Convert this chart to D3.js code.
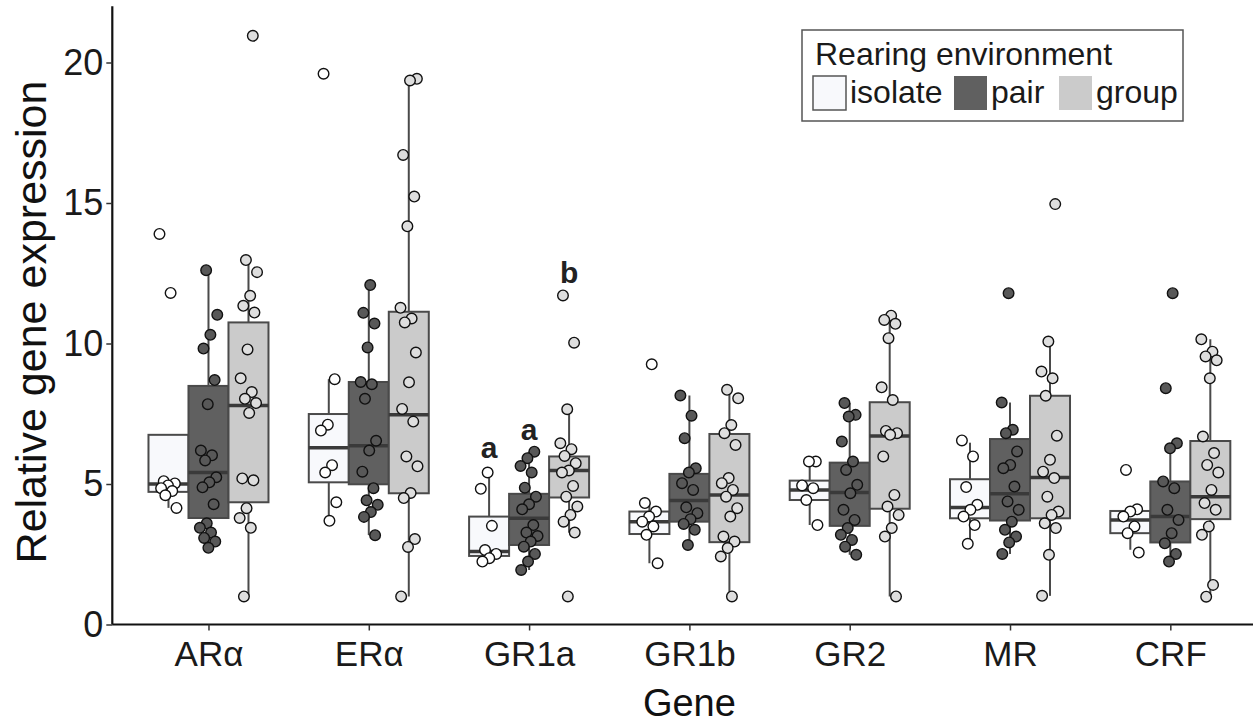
<!DOCTYPE html>
<html>
<head>
<meta charset="utf-8">
<script src="https://cdnjs.cloudflare.com/ajax/libs/d3/7.8.5/d3.min.js"></script>
<style>
	body { margin: 0; background: #fff; }
	svg { display: block; font-family: "Liberation Sans", Arial, sans-serif; }
</style>
</head>
<body>
<svg id="chart" width="1253" height="723"></svg>
<script>
var genes = ['ARα', 'ERα', 'GR1a', 'GR1b', 'GR2', 'MR', 'CRF'];
var envs = ['isolate', 'pair', 'group'];
var yTicks = [0, 5, 10, 15, 20];

// box stats per gene: [whisker low, q1, median, q3, whisker high]
var isolateBox = [
	[4.15, 4.72, 5.0, 6.75, 5.1],
	[3.69, 5.06, 6.29, 7.49, 8.73],
	[2.24, 2.44, 2.6, 3.84, 5.41],
	[2.18, 3.22, 3.66, 4.02, 4.32],
	[3.54, 4.43, 4.79, 5.12, 5.8],
	[2.92, 3.78, 4.16, 5.17, 6.47],
	[2.66, 3.25, 3.72, 4.04, 4.1]
];
var pairBox = [
	[2.73, 3.79, 5.41, 8.49, 12.61],
	[3.18, 4.99, 6.36, 8.63, 12.08],
	[1.94, 2.83, 3.78, 4.65, 6.15],
	[2.83, 3.66, 4.41, 5.36, 8.15],
	[2.48, 3.51, 4.7, 5.76, 7.88],
	[2.51, 3.7, 4.65, 6.6, 7.9],
	[2.24, 2.92, 3.84, 5.09, 6.45]
];
var groupBox = [
	[1.0, 4.35, 7.79, 10.75, 12.92],
	[1.0, 4.67, 7.46, 11.13, 19.39],
	[3.27, 4.52, 5.48, 5.98, 7.66],
	[1.0, 2.93, 4.61, 6.78, 8.35],
	[1.0, 4.12, 6.71, 7.91, 10.99],
	[1.02, 3.78, 5.23, 8.14, 10.07],
	[1.0, 3.75, 4.55, 6.53, 10.15]
];

// individual samples per gene
var isolatePts = [
	[13.9, 11.8, 5.1, 5.02, 4.95, 4.85, 4.75, 4.6, 4.15],
	[19.6, 8.73, 7.11, 6.9, 5.67, 5.41, 4.35, 3.69],
	[5.41, 4.83, 3.51, 2.65, 2.51, 2.36, 2.24],
	[9.26, 4.32, 4.02, 3.84, 3.66, 3.49, 3.19, 2.18],
	[5.8, 5.8, 4.95, 4.85, 4.43, 3.54],
	[6.55, 5.98, 4.89, 4.26, 4.08, 3.84, 3.54, 2.87],
	[5.5, 4.1, 4.02, 3.84, 3.49, 3.25, 2.56]
];
var pairPts = [
	[12.61, 11.02, 10.31, 9.82, 8.7, 7.84, 6.19, 6.02, 5.84, 5.24, 5.06, 4.88, 4.28, 3.6, 3.44, 3.27, 3.08, 2.95, 2.73],
	[12.08, 11.09, 10.71, 9.86, 8.63, 8.55, 8.03, 6.54, 6.19, 5.44, 4.85, 4.42, 4.26, 4.0, 3.83, 3.18],
	[6.15, 5.92, 5.64, 5.41, 4.87, 4.55, 4.28, 4.1, 3.54, 3.27, 3.15, 2.95, 2.77, 2.51, 2.24, 1.94],
	[8.15, 7.43, 6.63, 5.56, 5.41, 5.03, 4.79, 4.17, 3.96, 3.75, 3.58, 3.37, 2.83],
	[7.88, 7.46, 7.4, 6.51, 5.8, 5.5, 4.97, 4.67, 4.08, 3.72, 3.43, 3.19, 3.01, 2.77, 2.48],
	[11.79, 7.9, 6.93, 6.81, 6.16, 5.68, 5.56, 4.91, 4.38, 4.08, 3.66, 3.37, 3.13, 2.92, 2.51],
	[11.79, 8.41, 6.45, 6.27, 5.09, 4.85, 4.08, 3.72, 3.25, 2.89, 2.51, 2.24]
];
var groupPts = [
	[20.95, 12.97, 12.54, 11.7, 11.34, 11.1, 9.79, 8.76, 8.27, 8.03, 7.88, 7.53, 5.2, 5.13, 4.14, 3.79, 3.44, 1.0],
	[19.42, 19.36, 16.71, 15.23, 14.17, 11.27, 10.89, 10.75, 9.68, 8.62, 7.67, 7.22, 5.98, 5.63, 4.68, 4.5, 3.04, 2.76, 1.0],
	[11.71, 10.03, 7.66, 6.45, 6.24, 6.0, 5.74, 5.48, 5.41, 4.93, 4.55, 4.2, 3.9, 3.66, 3.27, 1.0],
	[8.35, 8.05, 7.1, 6.81, 6.39, 5.21, 5.03, 4.79, 4.55, 4.14, 3.84, 3.13, 2.95, 2.72, 2.42, 1.0],
	[10.99, 10.84, 10.7, 10.19, 8.44, 7.99, 6.89, 6.81, 6.75, 5.98, 4.61, 4.2, 3.9, 3.43, 3.13, 1.0],
	[14.96, 10.07, 9.0, 8.76, 8.14, 6.72, 5.86, 5.44, 5.21, 4.55, 4.02, 3.9, 3.6, 3.43, 2.48, 1.02],
	[10.15, 9.71, 9.54, 9.4, 8.76, 6.69, 6.1, 5.68, 5.41, 4.79, 4.32, 4.08, 3.49, 3.19, 1.41, 0.99]
];

// significance letters over GR1a
var sigGene = ['GR1a', 'GR1a', 'GR1a'];
var sigEnv = ['isolate', 'pair', 'group'];
var sigText = ['a', 'a', 'b'];
var sigValue = [5.93, 6.57, 12.15];

var boxes = { isolate: isolateBox, pair: pairBox, group: groupBox };
var pts = { isolate: isolatePts, pair: pairPts, group: groupPts };
var fills = { isolate: '#f8f9fc', pair: '#606060', group: '#cbcbcb' };
var ptFills = { isolate: '#ffffff', pair: '#585858', group: '#dedede' };

var svg = d3.select('#chart'),
	W = 1253;

var x = d3.scalePoint().domain(genes).range([112.3, 1266.5]).padding(0.6);
var xSub = d3.scaleBand().domain(envs).range([-60, 60]);
var y = d3.scaleLinear().domain([0, 22]).range([624.5, 6.3]);

var plot = svg.append('g');

// whiskers first, box fill hides any inner part
envs.forEach(function (env) {
	boxes[env].forEach(function (b, i) {
		var cx = x(genes[i]) + xSub(env) + xSub.bandwidth() / 2;
		plot.append('line')
			.attr('x1', cx).attr('x2', cx)
			.attr('y1', y(b[0])).attr('y2', y(b[4]))
			.style('stroke', '#4a4a4a').style('stroke-width', 2);
	});
});

// boxes
envs.forEach(function (env) {
	boxes[env].forEach(function (b, i) {
		var x0 = x(genes[i]) + xSub(env);
		plot.append('rect')
			.attr('x', x0).attr('y', y(b[3]))
			.attr('width', xSub.bandwidth()).attr('height', y(b[1]) - y(b[3]))
			.style('fill', fills[env])
			.style('stroke', '#4a4a4a').style('stroke-width', 2);
		plot.append('line')
			.attr('x1', x0).attr('x2', x0 + xSub.bandwidth())
			.attr('y1', y(b[2])).attr('y2', y(b[2]))
			.style('stroke', '#3a3a3a').style('stroke-width', 3.5);
	});
});

// jittered points
envs.forEach(function (env, k) {
	pts[env].forEach(function (arr, i) {
		var cx = x(genes[i]) + xSub(env) + xSub.bandwidth() / 2;
		arr.forEach(function (v, j) {
			var f = (j * 0.618034 + k * 0.37 + i * 0.21) % 1;
			plot.append('circle')
				.attr('cx', cx + (f * 2 - 1) * 9)
				.attr('cy', y(v))
				.attr('r', 5.3)
				.style('fill', ptFills[env])
				.style('stroke', '#111')
				.style('stroke-width', 1.4);
		});
	});
});

// letters
sigText.forEach(function (t, i) {
	plot.append('text')
		.attr('x', x(sigGene[i]) + xSub(sigEnv[i]) + xSub.bandwidth() / 2)
		.attr('y', y(sigValue[i]))
		.attr('text-anchor', 'middle')
		.style('font-size', '30px').style('font-weight', 'bold').style('fill', '#222')
		.text(t);
});

// axes
var yAxis = svg.append('g')
	.attr('transform', 'translate(112.3,0)')
	.call(d3.axisLeft(y).tickValues(yTicks).tickSize(6).tickPadding(3));
yAxis.select('.domain').attr('d', 'M0,' + y(22) + 'V' + y(0)).style('stroke', '#111').style('stroke-width', 2.2);
yAxis.selectAll('.tick line').style('stroke', '#333').style('stroke-width', 1.5);
yAxis.selectAll('.tick text').style('font-size', '36px').style('fill', '#1a1a1a')
	.style('font-family', '"Liberation Sans", Arial, sans-serif');

var xAxis = svg.append('g')
	.attr('transform', 'translate(0,' + y(0) + ')')
	.call(d3.axisBottom(x).tickSize(6).tickPadding(11));
xAxis.select('.domain').attr('d', 'M112.3,0H' + W).style('stroke', '#111').style('stroke-width', 2.2);
xAxis.selectAll('.tick line').style('stroke', '#333').style('stroke-width', 1.5);
xAxis.selectAll('.tick text').style('font-size', '35px').style('fill', '#1a1a1a')
	.style('font-family', '"Liberation Sans", Arial, sans-serif');

svg.append('text')
	.attr('transform', 'translate(46,322) rotate(-90)')
	.attr('text-anchor', 'middle')
	.style('font-size', '43px').style('fill', '#111')
	.text('Relative gene expression');

svg.append('text')
	.attr('x', x('GR1b')).attr('y', 716)
	.attr('text-anchor', 'middle')
	.style('font-size', '38px').style('fill', '#111')
	.text('Gene');

// legend
var lg = svg.append('g').attr('transform', 'translate(802,30)');
lg.append('rect')
	.attr('width', 381).attr('height', 91)
	.style('fill', '#fff').style('stroke', '#555').style('stroke-width', 1.5);
lg.append('text')
	.attr('x', 13).attr('y', 35)
	.style('font-size', '32px').style('fill', '#1a1a1a')
	.text('Rearing environment');
var keyX = [11, 152, 257];
envs.forEach(function (env, k) {
	lg.append('rect')
		.attr('x', keyX[k]).attr('y', 46)
		.attr('width', 33).attr('height', 34)
		.style('fill', fills[env])
		.style('stroke', env == 'isolate' ? '#555' : 'none').style('stroke-width', 1.5);
	lg.append('text')
		.attr('x', keyX[k] + 37).attr('y', 73)
		.style('font-size', '32px').style('fill', '#1a1a1a')
		.text(env);
});
</script>
</body>
</html>
